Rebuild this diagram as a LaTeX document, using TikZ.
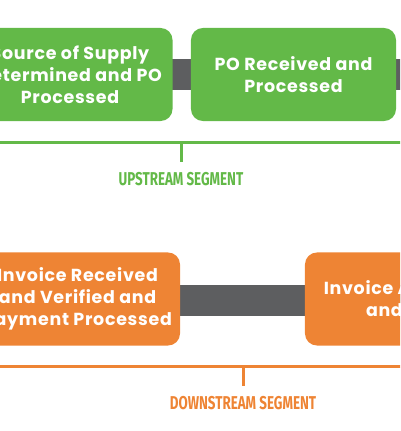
\documentclass[tikz,border=0pt]{standalone}
\usepackage{fontspec}
\setmainfont{Poppins}[LetterSpace=4]
\newfontfamily\segfont{Fira Sans}[FakeStretch=0.72]
\usetikzlibrary{positioning, calc}
\definecolor{upgreen}{HTML}{63B948}
\definecolor{downorange}{HTML}{EE8434}
\definecolor{barink}{HTML}{5D5E60}

\begin{document}
\begin{tikzpicture}[x=0.025cm, y=-0.025cm,
    stepbox/.style={rounded corners=3mm, minimum width=51.25mm,
      minimum height=23.25mm, align=center, text=white,
      font=\fontsize{12.4}{15.6}\selectfont\bfseries},
    upbox/.style={stepbox, fill=upgreen},
    downbox/.style={stepbox, fill=downorange},
    bar/.style={barink, line width=7.5mm},
    bracket/.style={line width=0.75mm},
    seglabel/.style={font=\segfont\fontsize{13.2}{14}\selectfont\bfseries}]
  \useasboundingbox (0,0) rectangle (400,431);
  \clip (0,0) rectangle (400,431);

  % upstream
  \coordinate (upout) at (430,74.5);
  \draw[bar] (293.5,74.5) -- (upout);
  \draw[bar] (70,74.5) -- (293.5,74.5);
  \node[upbox] (source) at (70,74.5)
    {Source of Supply\\Determined and PO\\Processed};
  \node[upbox] (poin) at (293.5,74.5) {PO Received and\\Processed};
  \coordinate (upl) at (-20,142.5);
  \coordinate (upr) at (420,142.5);
  \coordinate (upmid) at (181,142.5);
  \node[seglabel, text=upgreen] (uplabel) at (181,179) {UPSTREAM SEGMENT};
  \draw[bracket, upgreen] (upl) -- (upr);
  \draw[bracket, upgreen] (upmid) -- (181,162);

  % downstream
  \draw[bar] (77.5,300.5) -- (407.5,300.5);
  \node[downbox] (invrec) at (77.5,299)
    {Invoice Received\\and Verified and\\Payment Processed};
  \node[downbox] (invpay) at (407.5,299) {Invoice Approved\\and Paid};
  \coordinate (downl) at (-20,366.5);
  \coordinate (downr) at (420,366.5);
  \coordinate (downmid) at (243,366.5);
  \node[seglabel, text=downorange] (downlabel) at (243,403) {DOWNSTREAM SEGMENT};
  \draw[bracket, downorange] (downl) -- (downr);
  \draw[bracket, downorange] (downmid) -- (243,386);
\end{tikzpicture}
\end{document}
